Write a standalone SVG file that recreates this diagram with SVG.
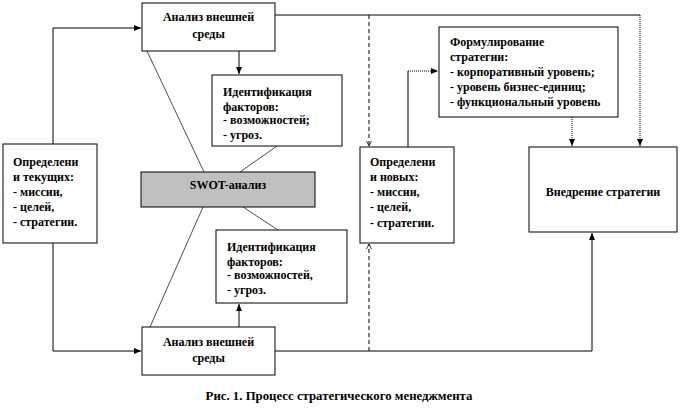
<svg xmlns="http://www.w3.org/2000/svg" width="680" height="420" viewBox="0 0 680 420">
<style>
.box{fill:#fff;stroke:#000;stroke-width:1}
.swot{fill:#c0c0c0;stroke:#000;stroke-width:1}
.t{font-family:"Liberation Serif","Times New Roman",serif;font-size:12px;font-weight:bold;fill:#000}
.c{text-anchor:middle}
.cap{font-size:12.8px}
.ln{fill:none;stroke:#000;stroke-width:1}
.thin{fill:none;stroke:#000;stroke-width:0.7}
.dash{fill:none;stroke:#000;stroke-width:1;stroke-dasharray:4 3}
.dot{fill:none;stroke:#000;stroke-width:1;stroke-dasharray:1 1}
</style>
<defs>
<marker id="arr" markerUnits="userSpaceOnUse" markerWidth="8" markerHeight="8" refX="7" refY="4" orient="auto">
<path d="M0,1 L7,4 L0,7 Z" fill="#000"/>
</marker>
<marker id="open" markerUnits="userSpaceOnUse" markerWidth="8" markerHeight="8" refX="7" refY="4" orient="auto">
<path d="M2,1.5 L7,4 L2,6.5" fill="none" stroke="#000" stroke-width="0.8"/>
</marker>
</defs>
<rect width="680" height="420" fill="#fff"/>

<g id="connectors">
<polyline class="ln" points="53,144 53,28 141,28" marker-end="url(#arr)"/>
<polyline class="ln" points="53,243 53,351 141,351" marker-end="url(#arr)"/>
<line class="ln" x1="239" y1="51" x2="239" y2="74" marker-end="url(#arr)"/>
<line class="ln" x1="239" y1="327" x2="239" y2="304" marker-end="url(#arr)"/>
<line class="thin" x1="147" y1="51" x2="204" y2="172"/>
<line class="thin" x1="277" y1="146" x2="240" y2="172"/>
<line class="thin" x1="243" y1="207" x2="278" y2="230"/>
<line class="thin" x1="203" y1="207" x2="150" y2="327"/>
<polyline class="ln" points="275,15 640,15"/>
<line class="dot" x1="640" y1="15" x2="640" y2="146" marker-end="url(#arr)"/>
<line class="dash" x1="369" y1="15" x2="369" y2="146" marker-end="url(#open)"/>
<line class="dash" x1="369" y1="351" x2="369" y2="244" marker-end="url(#open)"/>
<polyline class="ln" points="275,351 592,351 592,233" marker-end="url(#arr)"/>
<polyline class="ln" points="408,147 408,71"/>
<line class="dot" x1="408" y1="71" x2="438" y2="71" marker-end="url(#arr)"/>
<line class="dot" x1="572" y1="117" x2="572" y2="146" marker-end="url(#arr)"/>
</g>

<g id="analiz-top">
<rect class="box" x="142" y="3" width="133" height="48"/>
<text class="t c" x="208.5" y="21">Анализ внешней</text>
<text class="t c" x="208.5" y="38">среды</text>
</g>

<g id="ident-top">
<rect class="box" x="212" y="75" width="130" height="71"/>
<text class="t" x="223" y="96">Идентификация</text>
<text class="t" x="223" y="111">факторов:</text>
<text class="t" x="223" y="124">- возможностей;</text>
<text class="t" x="223" y="139">- угроз.</text>
</g>

<g id="current">
<rect class="box" x="3" y="144" width="94" height="99"/>
<text class="t" x="13" y="166">Определени</text>
<text class="t" x="13" y="181">и текущих:</text>
<text class="t" x="13" y="196">- миссии,</text>
<text class="t" x="13" y="211">- целей,</text>
<text class="t" x="13" y="226">- стратегии.</text>
</g>

<g id="swot">
<rect class="swot" x="141" y="172" width="174" height="35"/>
<text class="t c" x="228" y="189">SWOT-анализ</text>
</g>

<g id="ident-bottom">
<rect class="box" x="216" y="230" width="131" height="73"/>
<text class="t" x="227" y="251">Идентификация</text>
<text class="t" x="227" y="266">факторов:</text>
<text class="t" x="227" y="279">- возможностей,</text>
<text class="t" x="227" y="294">- угроз.</text>
</g>

<g id="analiz-bottom">
<rect class="box" x="142" y="327" width="133" height="48"/>
<text class="t c" x="208.5" y="346">Анализ внешней</text>
<text class="t c" x="208.5" y="362">среды</text>
</g>

<g id="new">
<rect class="box" x="360" y="147" width="94" height="96"/>
<text class="t" x="370" y="166">Определени</text>
<text class="t" x="370" y="181">и новых:</text>
<text class="t" x="370" y="196">- миссии,</text>
<text class="t" x="370" y="211">- целей,</text>
<text class="t" x="370" y="227">- стратегии.</text>
</g>

<g id="formulation">
<rect class="box" x="439" y="27" width="179" height="90"/>
<text class="t" x="450" y="46">Формулирование</text>
<text class="t" x="450" y="61">стратегии:</text>
<text class="t" x="450" y="76">- корпоративный уровень;</text>
<text class="t" x="450" y="91">- уровень бизнес-единиц;</text>
<text class="t" x="450" y="106">- функциональный уровень</text>
</g>

<g id="implementation">
<rect class="box" x="529" y="147" width="148" height="85"/>
<text class="t c" x="603" y="196">Внедрение стратегии</text>
</g>

<text class="t c cap" x="339" y="400">Рис. 1. Процесс стратегического менеджмента</text>
</svg>
